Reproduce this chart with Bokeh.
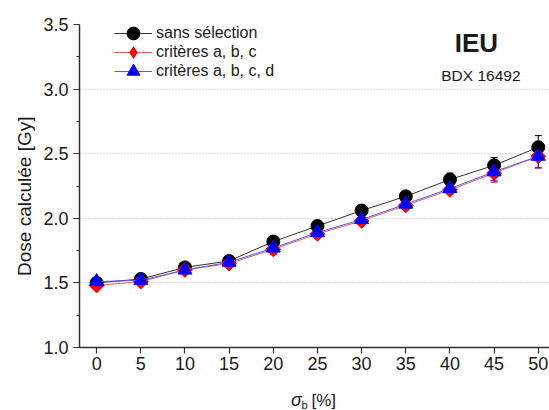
import math
from bokeh.plotting import figure
from bokeh.layouts import column, row
from bokeh.models import (ColumnDataSource, Whisker, TeeHead, Legend, LegendItem,
                          Label, SingleIntervalTicker, FixedTicker, PrintfTickFormatter)
from bokeh.core.properties import value
from bokeh.embed import file_html
from bokeh.resources import INLINE

sigma_b = [0, 5, 10, 15, 20, 25, 30, 35, 40, 45, 50]
dose_sans = [1.50, 1.53, 1.62, 1.67, 1.82, 1.94, 2.06, 2.17, 2.30, 2.41, 2.55]
err_sans = [0.02, 0.02, 0.02, 0.02, 0.03, 0.03, 0.04, 0.03, 0.05, 0.06, 0.09]
dose_abc = [1.48, 1.51, 1.60, 1.65, 1.76, 1.88, 1.98, 2.10, 2.22, 2.35, 2.48]
err_abc = [0.02, 0.02, 0.02, 0.02, 0.04, 0.03, 0.03, 0.03, 0.03, 0.07, 0.09]
dose_abcd = [1.51, 1.52, 1.60, 1.66, 1.77, 1.89, 1.99, 2.11, 2.23, 2.36, 2.48]
err_abcd = [0.02, 0.02, 0.02, 0.02, 0.04, 0.03, 0.03, 0.03, 0.03, 0.07, 0.09]
labels = ["sans sélection", "critères a, b, c", "critères a, b, c, d"]
y_title = "Dose calculée [Gy]"
x_title = ["σ", "b", "[%]"]
panel_title = "IEU"
panel_sub = "BDX 16492"

FONT = "Liberation Sans"
TXT = "#1a1a1a"

p = figure(width=509, height=380, output_backend="svg", toolbar_location=None,
           x_range=(-1.94, 51.27), y_range=(1.0, 3.5),
           min_border_left=37, min_border_right=0, min_border_top=24,
           min_border_bottom=33)
p.outline_line_color = None

for ax in (p.xaxis[0], p.yaxis[0]):
    ax.axis_line_color = "#333333"
    ax.axis_line_width = 1.5
    ax.major_tick_line_color = "#333333"
    ax.major_tick_line_width = 1.2
    ax.minor_tick_line_color = "#333333"
    ax.major_tick_in = 0
    ax.major_tick_out = 6
    ax.minor_tick_in = 0
    ax.minor_tick_out = 3
    ax.major_label_text_font = FONT
    ax.major_label_text_font_size = "18px"
    ax.major_label_text_color = TXT
    ax.axis_label = None

p.xaxis.ticker = SingleIntervalTicker(interval=5, num_minor_ticks=0)
p.xaxis.major_label_standoff = 3
p.yaxis.ticker = SingleIntervalTicker(interval=0.5, num_minor_ticks=2)
p.yaxis.formatter = PrintfTickFormatter(format="%.1f")
p.yaxis.major_label_standoff = 5

p.xgrid.grid_line_color = None
p.ygrid.ticker = FixedTicker(ticks=[1.5, 2.0, 2.5, 3.0])
p.ygrid.grid_line_color = "#bbbbbb"
p.ygrid.grid_line_dash = "1 2"
p.ygrid.grid_line_width = 1

series = [
    (dose_sans, err_sans, "#333333", "#000000", "circle", 13, 0.0, None),
    (dose_abc, err_abc, "#e06060", "#ff0000", "square", 10.5, math.pi / 4, "diamond"),
    (dose_abcd, err_abcd, "#5a5ae0", "#0000ff", "triangle", 14, 0.0, None),
]

# one single-item legend per row, so that the key markers can be large
row_locations = [(35, 298), (35, 279), (35, 260)]
for (ys, es, lc, mc, marker, size, ang, lmarker), lab, loc in zip(series, labels, row_locations):
    src = ColumnDataSource(dict(x=sigma_b, y=ys,
                                lo=[y - e for y, e in zip(ys, es)],
                                hi=[y + e for y, e in zip(ys, es)]))
    w = Whisker(source=src, base="x", upper="hi", lower="lo",
                line_color=mc, line_width=1,
                upper_head=TeeHead(size=7, line_color=mc),
                lower_head=TeeHead(size=7, line_color=mc))
    p.add_layout(w)
    ln = p.line("x", "y", source=src, line_color=lc, line_width=1)
    sc = p.scatter("x", "y", source=src, marker=marker, size=size, angle=ang,
                   fill_color=mc, line_color=mc)
    key = sc
    if lmarker is not None:
        # zero-size twin: invisible in the plot, drawn as a diamond in the legend
        key = p.scatter("x", "y", source=src, marker=lmarker, size=0,
                        fill_color=mc, line_color=mc, line_width=0)
    lg = Legend(items=[LegendItem(label=lab, renderers=[ln, key])],
                location=loc, orientation="vertical",
                label_text_font=FONT, label_text_font_size="16px",
                label_text_color=TXT,
                glyph_width=38, glyph_height=32, label_height=32,
                label_standoff=4, spacing=0, padding=0, margin=0,
                border_line_color=None, background_fill_alpha=0)
    p.add_layout(lg)

p.add_layout(Label(x=43.0, y=3.355, text=panel_title, text_font=FONT,
                   text_font_style="bold", text_font_size="26px",
                   text_align="center", text_baseline="middle", text_color=TXT))
p.add_layout(Label(x=43.5, y=3.104, text=panel_sub, text_font=FONT,
                   text_font_size="15.5px",
                   text_align="center", text_baseline="middle", text_color=TXT))

# left strip with the y-axis title
pl = figure(width=40, height=380, output_backend="svg", toolbar_location=None,
            x_range=(0, 40), y_range=(0, 380), x_axis_location=None,
            y_axis_location=None, min_border=0)
pl.outline_line_color = None
pl.grid.visible = False
pl.text(x=[24], y=[178], text=[y_title], angle=math.pi / 2,
        text_font=value(FONT), text_font_size="19px", text_color=TXT,
        text_align="center", text_baseline="middle")

# bottom strip with the x-axis title (sigma_b [%])
pb = figure(width=549, height=30, output_backend="svg", toolbar_location=None,
            x_range=(0, 549), y_range=(0, 30), x_axis_location=None,
            y_axis_location=None, min_border=0)
pb.outline_line_color = None
pb.grid.visible = False
pb.text(x=[296], y=[11], text=[x_title[0]], text_font=value(FONT),
        text_font_style="italic", text_font_size="18px", text_color=TXT,
        text_align="center", text_baseline="middle")
pb.text(x=[304], y=[6], text=[x_title[1]], text_font=value(FONT),
        text_font_size="11px", text_color=TXT,
        text_align="center", text_baseline="middle")
pb.text(x=[311], y=[10], text=[x_title[2]], text_font=value(FONT),
        text_font_size="17px", text_color=TXT,
        text_align="left", text_baseline="middle")

layout = column(row(pl, p, spacing=0), pb, spacing=0)
open("out.html", "w").write(file_html(layout, INLINE))
